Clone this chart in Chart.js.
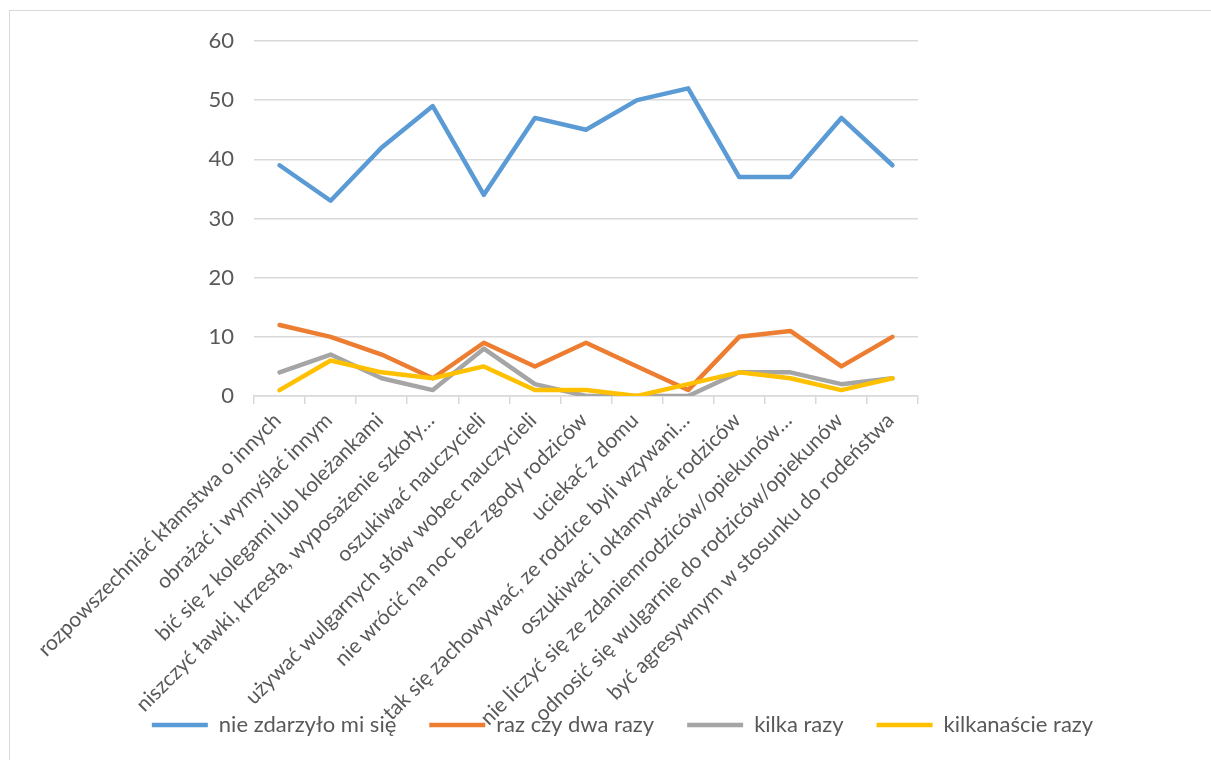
<!DOCTYPE html>
<html>
<head>
<meta charset="utf-8">
<script src="https://cdn.jsdelivr.net/npm/chart.js@4/dist/chart.umd.min.js"></script>
<style>
    body { margin: 0; background: #fff; }
    #wrap { position: relative; width: 1211px; height: 760px; overflow: hidden; }
    #frame { position: absolute; left: 9px; top: 10px; width: 1300px; height: 800px; border: 1.5px solid #d9d9d9; box-sizing: border-box; }
    #chart { position: absolute; left: 0; top: 0; }
</style>
</head>
<body>
<div id="wrap">
    <div id="frame"></div>
    <canvas id="chart" width="1211" height="760"></canvas>
</div>
<script>
const categories = [
    "rozpowszechniać kłamstwa o innych",
    "obrażać i wymyślać innym",
    "bić się z kolegami lub koleżankami",
    "niszczyć ławki, krzesła, wyposażenie szkoły…",
    "oszukiwać nauczycieli",
    "używać wulgarnych słów wobec nauczycieli",
    "nie wrócić na noc bez zgody rodziców",
    "uciekać z domu",
    "tak się zachowywać, ze rodzice byli wzywani…",
    "oszukiwać i okłamywać rodziców",
    "nie liczyć się ze zdaniemrodziców/opiekunów…",
    "odnosić się wulgarnie do rodziców/opiekunów",
    "być agresywnym w stosunku do rodeństwa"
];
const seriesNames = ["nie zdarzyło mi się", "raz czy dwa razy", "kilka razy", "kilkanaście razy"];
const neverValues = [39, 33, 42, 49, 34, 47, 45, 50, 52, 37, 37, 47, 39];
const onceTwiceValues = [12, 10, 7, 3, 9, 5, 9, 5, 1, 10, 11, 5, 10];
const fewValues = [4, 7, 3, 1, 8, 2, 0, 0, 0, 4, 4, 2, 3];
const manyValues = [1, 6, 4, 3, 5, 1, 1, 0, 2, 4, 3, 1, 3];
const yTicks = [0, 10, 20, 30, 40, 50, 60];

const colors = ["#5b9bd5", "#ed7d31", "#a5a5a5", "#ffc000"];
const allValues = [neverValues, onceTwiceValues, fewValues, manyValues];
const FONT = "Lato, 'Open Sans', sans-serif";

const datasets = allValues.map((vals, i) => ({
    label: seriesNames[i],
    data: vals,
    borderColor: colors[i],
    backgroundColor: colors[i],
    borderWidth: 4.5,
    borderCapStyle: "round",
    borderJoinStyle: "round",
    pointRadius: 0,
    tension: 0,
    yAxisID: "y",
    order: 3 - i // last series drawn on top, like Excel
}));

// let the category labels run down over the legend, like in Excel
const longLabels = {
    id: "longLabels",
    afterLayout(chart) {
        chart.scales.x.bottom = chart.height;
    }
};

const ctx = document.getElementById("chart").getContext("2d");
new Chart(ctx, {
    type: "line",
    data: { labels: categories, datasets: datasets },
    plugins: [longLabels],
    options: {
        responsive: false,
        animation: false,
        layout: { padding: { left: 34, right: 0, top: 41, bottom: 14 } },
        plugins: {
            tooltip: { enabled: false },
            legend: {
                position: "bottom",
                labels: {
                    usePointStyle: true,
                    pointStyle: "line",
                    pointStyleWidth: 56,
                    boxHeight: 22,
                    padding: 33,
                    color: "#595959",
                    font: { family: FONT, size: 22 },
                    sort: (a, b) => a.datasetIndex - b.datasetIndex
                }
            }
        },
        scales: {
            x: {
                offset: true,
                grid: {
                    offset: true,
                    drawOnChartArea: false,
                    color: "#d9d9d9",
                    lineWidth: 1.5,
                    tickLength: 8
                },
                border: { color: "#d9d9d9", width: 1.5 },
                ticks: {
                    autoSkip: false,
                    maxRotation: 45,
                    minRotation: 45,
                    padding: 4,
                    labelOffset: -2,
                    color: "#595959",
                    font: { family: FONT, size: 21 }
                },
                afterFit: function (scale) { scale.height = 285; }
            },
            y: {
                min: 0,
                max: 60,
                afterBuildTicks: function (scale) { scale.ticks = yTicks.map(v => ({ value: v })); },
                grid: { color: "#d9d9d9", lineWidth: 1.5, drawTicks: false },
                border: { display: false },
                ticks: {
                    padding: 20,
                    color: "#595959",
                    font: { family: FONT, size: 22 }
                },
                afterFit: function (scale) { scale.width = 220; }
            },
            yRight: {
                position: "right",
                grid: { display: false },
                border: { display: false },
                ticks: { display: false },
                afterFit: function (scale) { scale.width = 293; }
            }
        }
    }
});
</script>
</body>
</html>
